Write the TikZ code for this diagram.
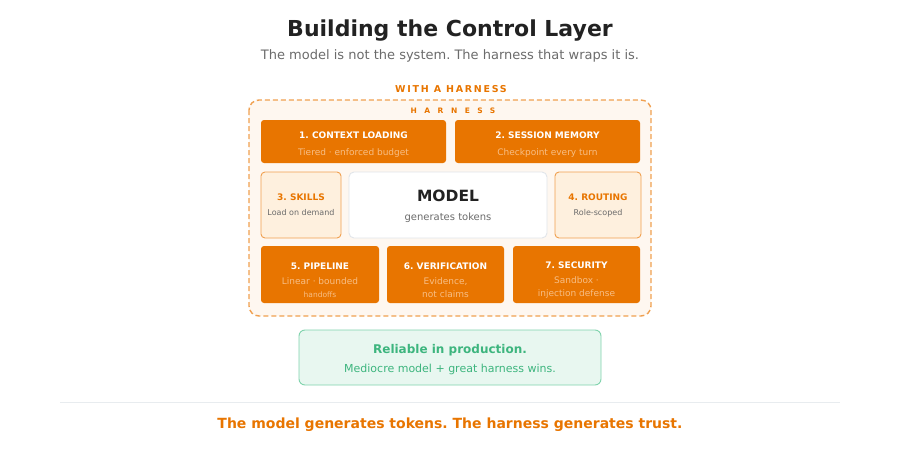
\documentclass[tikz,border=0pt]{standalone}
\usepackage{fontspec}
\setmainfont{DejaVu Sans}
\newfontfamily\trackfont[LetterSpace=18]{DejaVu Sans}
\newfontfamily\widefont[LetterSpace=100]{DejaVu Sans}
\usepackage{tikz}
\usetikzlibrary{positioning}
\frenchspacing

\begin{document}
\begin{tikzpicture}[
    x=1pt, y=-1pt,
    pillar/.style={draw=none, rounded corners=3pt, align=center, fill=corange,
                   text=white, inner sep=0pt},
    sidebox/.style={draw=cborder, line width=0.9pt, rounded corners=4pt, align=center,
                    fill=cside, text=corange, inner sep=0pt},
]
% ---- Colors grouped by role ----
\definecolor{corange}{HTML}{E87500}   % pillars and accent text
\definecolor{csub}{HTML}{F7BE85}      % subtitles on orange
\definecolor{cborder}{HTML}{F0A050}   % harness outline, side boxes
\definecolor{cside}{HTML}{FEF0DE}     % side box fill
\definecolor{charness}{HTML}{FEF7F0}  % harness fill
\definecolor{cgray}{HTML}{6B6B6B}     % gray text
\definecolor{cdark}{HTML}{222222}     % headings
\definecolor{cgreen}{HTML}{3DB57E}    % result text
\definecolor{cgreenfill}{HTML}{E8F7F0}
\definecolor{cgreenline}{HTML}{7FD3AC}
\definecolor{crule}{HTML}{E8ECEF}
\definecolor{cmodel}{HTML}{E1E5EA}

\useasboundingbox (0,0) rectangle (900,460);

% ---- Heading ----
\node[font=\fontsize{22}{26}\selectfont\bfseries, text=cdark] (head) at (450,31) {Building the Control Layer};
\node[font=\fontsize{13}{15}\selectfont, text=cgray] (subhead) at (450,56) {The model is not the system. The harness that wraps it is.};
\node[font=\fontsize{9.5}{11}\selectfont\trackfont\bfseries, text=corange] (with) at (451,89) {WITH A HARNESS};

% ---- Harness frame ----
\draw[draw=cborder, fill=charness, line width=1.4pt, dash pattern=on 5pt off 3pt, rounded corners=10pt]
    (249,100) rectangle (651,316);
\node[font=\fontsize{7.5}{9}\selectfont\widefont\bfseries, text=corange] (harness) at (453,111) {HARNESS};

% ---- Top row ----
\node[pillar, minimum width=185pt, minimum height=43pt] (ctx) at (353.5,141.5)
    {\rule{0pt}{12pt}\fontsize{9}{10}\selectfont\bfseries 1. CONTEXT LOADING\\[5pt]
     \fontsize{9}{10}\selectfont\color{csub}Tiered · enforced budget};
\node[pillar, minimum width=185pt, minimum height=43pt] (mem) at (547.5,141.5)
    {\rule{0pt}{12pt}\fontsize{9}{10}\selectfont\bfseries 2. SESSION MEMORY\\[5pt]
     \fontsize{9}{10}\selectfont\color{csub}Checkpoint every turn};

% ---- Middle row ----
\node[sidebox, minimum width=80pt, minimum height=66pt] (skills) at (301,205)
    {\fontsize{9}{10}\selectfont\bfseries 3. SKILLS\\[3pt]
     \fontsize{8}{9}\selectfont\color{cgray}Load on demand};
\node[draw=cmodel, line width=0.9pt, fill=white, rounded corners=5pt, align=center,
      minimum width=198pt, minimum height=66pt, inner sep=0pt] (model) at (448,205)
    {\rule{0pt}{14pt}\fontsize{15.5}{18}\selectfont\bfseries\color{cdark}MODEL\\[7pt]
     \fontsize{10}{11}\selectfont\color{cgray}generates tokens};
\node[sidebox, minimum width=86pt, minimum height=66pt] (routing) at (598,205)
    {\fontsize{9}{10}\selectfont\bfseries 4. ROUTING\\[3pt]
     \fontsize{8}{9}\selectfont\color{cgray}Role-scoped};

% ---- Bottom row ----
\node[pillar, minimum width=118pt, minimum height=57pt] (pipe) at (320,274.5)
    {\rule{0pt}{18pt}\fontsize{9}{10}\selectfont\bfseries 5. PIPELINE\\[3pt]
     \fontsize{9}{10}\selectfont\color{csub}Linear · bounded\\[1pt]
     \fontsize{7.5}{9}\selectfont\color{csub}handoffs};
\node[pillar, minimum width=117pt, minimum height=57pt] (verif) at (445.5,274.5)
    {\rule{0pt}{18pt}\fontsize{9}{10}\selectfont\bfseries 6. VERIFICATION\\[3pt]
     \fontsize{9}{10}\selectfont\color{csub}Evidence,\\[1pt]
     \fontsize{9}{10}\selectfont\color{csub}not claims};
\node[pillar, minimum width=127pt, minimum height=57pt] (secu) at (576.5,274.5)
    {\rule{0pt}{18pt}\fontsize{9}{10}\selectfont\bfseries 7. SECURITY\\[3pt]
     \fontsize{9}{10}\selectfont\color{csub}Sandbox ·\\[1pt]
     \fontsize{9}{10}\selectfont\color{csub}injection defense};

% ---- Outcome ----
\node[draw=cgreenline, fill=cgreenfill, line width=0.9pt, rounded corners=6pt, align=center,
      minimum width=302pt, minimum height=55pt, inner sep=0pt] (result) at (450,357.5)
    {\rule{0pt}{13pt}\fontsize{12}{14}\selectfont\bfseries\color{cgreen}Reliable in production.\\[7pt]
     \fontsize{11}{13}\selectfont\color{cgreen}Mediocre model + great harness wins.};

% ---- Footer ----
\coordinate (ruleL) at (60,402);
\coordinate (ruleR) at (840,402);
\draw[crule, line width=1pt] (ruleL) -- (ruleR);
\node[font=\fontsize{14}{16}\selectfont\bfseries, text=corange] (motto) at (450,425)
    {The model generates tokens. The harness generates trust.};
\end{tikzpicture}
\end{document}
